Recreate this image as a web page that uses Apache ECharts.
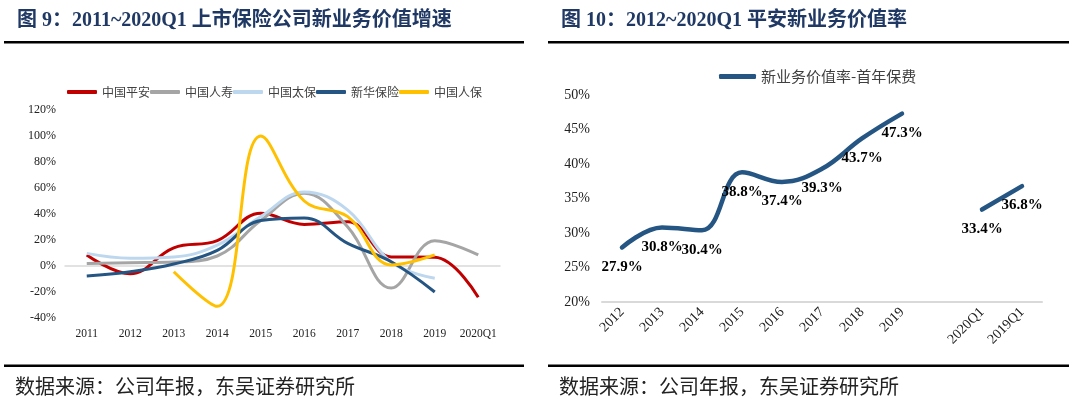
<!DOCTYPE html>
<html>
<head>
<meta charset="utf-8">
<script src="https://cdn.jsdelivr.net/npm/echarts@6/dist/echarts.min.js"></script>
<style>
html,body{margin:0;padding:0;background:#fff;}
#c{width:1077px;height:403px;}
</style>
</head>
<body>
<div id="c"></div>
<script>
// ---- Left chart data (growth of new business value, %) ----
var leftCategories = ['2011','2012','2013','2014','2015','2016','2017','2018','2019','2020Q1'];
var pingan   = [8.5, -6, 14, 19.5, 40.5, 32, 34, 7, 6.7, -24];
var renshou  = [2, 2.5, 3, 7.7, 35, 56, 30, -17, 19.5, 8.5];
var taibao   = [9.7, 6, 7, 16, 38, 57, 43, 3, -9.5, null];
var xinhua   = [-7.7, -4.4, 1.5, 12, 35, 37, 17.4, 3.3, -20, null];
var renbao   = [null, null, -4.4, -31, 100, 50, 38, 0.8, 8.5, null];
var leftNames = ['中国平安','中国人寿','中国太保','新华保险','中国人保'];
var leftColors = ['#C00000','#A5A5A5','#BDD7EE','#255683','#FFC000'];

// ---- Right chart data (Ping An NBV margin, %) ----
var rightCategories = ['2012','2013','2014','2015','2016','2017','2018','2019','','2020Q1','2019Q1'];
var nbvMargin = [27.9, 30.8, 30.4, 38.8, 37.4, 39.3, 43.7, 47.3, null, 33.4, 36.8];
var rightName = '新业务价值率-首年保费';

var serif = "'Liberation Serif','Times New Roman',serif";
var cjkSans = "'Noto Sans CJK SC','Noto Sans',sans-serif";
var titleFont = "'Liberation Serif','Noto Sans CJK SC',serif";

var chart = echarts.init(document.getElementById('c'), null, {renderer:'canvas'});

var leftSeriesData = [pingan, renshou, taibao, xinhua, renbao];
var series = leftSeriesData.map(function(d, i){
  return {
    name: leftNames[i], type:'line', xAxisIndex:0, yAxisIndex:0,
    data: d, smooth: 0.4, showSymbol:false, symbol:'none',
    lineStyle:{color:leftColors[i], width:3},
    itemStyle:{color:leftColors[i]}
  };
});
series.push({
  name: rightName, type:'line', xAxisIndex:2, yAxisIndex:1,
  data: nbvMargin, smooth: 0.4, symbol:'circle', symbolSize:0, showSymbol:true,
  connectNulls:false,
  lineStyle:{color:'#255683', width:4.5, cap:'round'},
  itemStyle:{color:'#255683'},
  label:{show:true, position:'bottom', distance:12,
    formatter:function(p){return p.value.toFixed(1)+'%';},
    fontFamily:serif, fontWeight:'bold', fontSize:15, color:'#000'}
});

var option = {
  animation:false,
  backgroundColor:'#fff',
  legend:[
    {data:leftNames, left:62, top:81, icon:'roundRect', itemWidth:30, itemHeight:4, itemGap:0,
     textStyle:{fontFamily:cjkSans, fontSize:12, color:'#404040'}},
    {data:[rightName], left:714, top:64, icon:'roundRect', itemWidth:37, itemHeight:5,
     textStyle:{fontFamily:cjkSans, fontSize:15, color:'#404040'}}
  ],
  grid:[
    {left:65, top:110, width:435, height:208, containLabel:false},
    {left:602, top:95, width:440, height:207, containLabel:false}
  ],
  xAxis:[
    {type:'category', gridIndex:0, data:leftCategories, boundaryGap:true,
     axisLine:{show:true, onZero:true, lineStyle:{color:'#D9D9D9', width:1.5}},
     axisTick:{show:false}, axisLabel:{show:false}},
    {type:'category', gridIndex:0, data:leftCategories, boundaryGap:true, position:'bottom',
     axisLine:{show:false, onZero:false}, axisTick:{show:false},
     axisLabel:{fontFamily:serif, fontSize:11.5, color:'#222', margin:10, interval:0}},
    {type:'category', gridIndex:1, data:rightCategories, boundaryGap:true,
     axisLine:{show:true, lineStyle:{color:'#D9D9D9', width:2}}, axisTick:{show:false},
     axisLabel:{fontFamily:serif, fontSize:14, color:'#222', rotate:45, margin:8, interval:0}}
  ],
  yAxis:[
    {type:'value', gridIndex:0, min:-40, max:120, interval:20,
     axisLine:{show:false}, axisTick:{show:false}, splitLine:{show:false},
     axisLabel:{fontFamily:serif, fontSize:12, color:'#222', margin:9, formatter:'{value}%'}},
    {type:'value', gridIndex:1, min:20, max:50, interval:5,
     axisLine:{show:false}, axisTick:{show:false}, splitLine:{show:false},
     axisLabel:{fontFamily:serif, fontSize:14, color:'#222', margin:12, formatter:'{value}%'}}
  ],
  graphic:[
    {type:'text', left:17, top:11, style:{text:'图 9：2011~2020Q1 上市保险公司新业务价值增速', font:'bold 20px '+titleFont, fill:'#1F3864'}},
    {type:'text', left:561, top:11, style:{text:'图 10：2012~2020Q1 平安新业务价值率', font:'bold 20px '+titleFont, fill:'#1F3864'}},
    {type:'rect', shape:{x:4, y:41, width:520, height:2.5}, style:{fill:'#000'}},
    {type:'rect', shape:{x:548, y:41, width:521, height:2.5}, style:{fill:'#000'}},
    {type:'rect', shape:{x:4, y:364.5, width:520, height:2.5}, style:{fill:'#000'}},
    {type:'rect', shape:{x:548, y:364.5, width:521, height:2.5}, style:{fill:'#000'}},
    {type:'text', left:15, top:376, style:{text:'数据来源：公司年报，东吴证券研究所', font:'20px '+cjkSans, fill:'#222'}},
    {type:'text', left:559, top:376, style:{text:'数据来源：公司年报，东吴证券研究所', font:'20px '+cjkSans, fill:'#222'}}
  ],
  series: series
};
chart.setOption(option);
</script>
</body>
</html>
